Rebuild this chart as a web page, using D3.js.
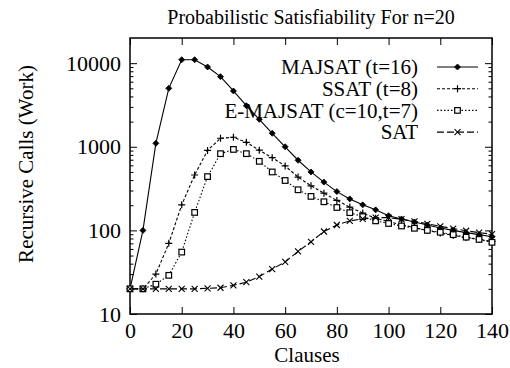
<!DOCTYPE html>
<html>
<head>
<meta charset="utf-8">
<script src="https://cdn.jsdelivr.net/npm/d3@7"></script>
<style>
  body { margin: 0; background: #fff; }
</style>
</head>
<body>
<div id="chart"></div>
<script>
// clauses (x) for every sample point
var clauses = [0, 5, 10, 15, 20, 25, 30, 35, 40, 45, 50, 55, 60, 65, 70, 75, 80, 85, 90, 95, 100, 105, 110, 115, 120, 125, 130, 135, 140];

// recursive calls
var majsat = [20, 100, 1100, 5000, 11000, 11000, 9000, 6900, 4650, 3100, 2130, 1450, 1000, 690, 500, 378, 291, 238, 202, 176, 150, 137, 126, 116, 107, 100, 94, 89, 84];
var ssat = [20, 20, 30, 70, 202, 460, 905, 1265, 1300, 1130, 910, 740, 590, 434, 341, 279, 228, 190, 161, 140, 127, 117, 108, 100, 93, 87, 82, 78, 74];
var emajsat = [20, 20, 22.7, 29, 55, 164, 440, 827, 930, 827, 670, 500, 395, 306, 255, 220, 188, 163, 146, 130, 121, 113, 106, 100, 95, 89, 83, 78, 72];
var sat = [20, 20, 20, 20, 20, 20, 20.3, 20.6, 22, 24, 28, 34.5, 42, 56, 73, 97, 116, 130, 137, 142, 142, 136, 128, 120, 112, 105, 99, 94, 90];

var seriesNames = ["MAJSAT (t=16)", "SSAT (t=8)", "E-MAJSAT (c=10,t=7)", "SAT"];
var xTicks = [0, 20, 40, 60, 80, 100, 120, 140];
var yTicks = [10, 100, 1000, 10000];

var series = [
  {name: seriesNames[0], values: majsat, dash: null, marker: "diamond"},
  {name: seriesNames[1], values: ssat, dash: "3,2", marker: "plus"},
  {name: seriesNames[2], values: emajsat, dash: "1.5,2", marker: "square"},
  {name: seriesNames[3], values: sat, dash: "7,3", marker: "cross"}
];

var FONT = "'Liberation Serif', 'Times New Roman', serif";

var width = 510, height = 368;
var margin = {top: 38, right: 18, bottom: 54, left: 130};
var innerW = width - margin.left - margin.right,
    innerH = height - margin.top - margin.bottom;

var x = d3.scaleLinear().domain([0, 140]).range([0, innerW]);
var y = d3.scaleLog().domain([10, 20000]).range([innerH, 0]);

var svg = d3.select("#chart").append("svg")
    .attr("width", width)
    .attr("height", height)
    .style("font-family", FONT);

var g = svg.append("g")
    .attr("transform", "translate(" + margin.left + "," + margin.top + ")");

// minor ticks on the log axis
var minor = [];
[10, 100, 1000, 10000].forEach(function(d) {
  for (var k = 2; k <= 9; k++) {
    if (d * k < 20000) minor.push(d * k);
  }
});

function styleAxis(sel) {
  sel.attr("font-family", null).attr("font-size", null);
  sel.select(".domain").remove();
  sel.selectAll("line").attr("stroke", "#000").attr("stroke-width", 1);
  sel.selectAll("text")
      .style("font-family", FONT)
      .style("font-size", "22px")
      .attr("fill", "#000");
}

g.append("g")
    .call(d3.axisLeft(y).tickValues(yTicks).tickFormat(d3.format("d")).tickSizeInner(-7).tickSizeOuter(0).tickPadding(9))
    .call(styleAxis);
g.append("g")
    .call(d3.axisLeft(y).tickValues(minor).tickFormat("").tickSizeInner(-3.5).tickSizeOuter(0))
    .call(styleAxis);
g.append("g")
    .attr("transform", "translate(" + innerW + ",0)")
    .call(d3.axisRight(y).tickValues(yTicks).tickFormat("").tickSizeInner(-7).tickSizeOuter(0))
    .call(styleAxis);
g.append("g")
    .attr("transform", "translate(" + innerW + ",0)")
    .call(d3.axisRight(y).tickValues(minor).tickFormat("").tickSizeInner(-3.5).tickSizeOuter(0))
    .call(styleAxis);

g.append("g")
    .attr("transform", "translate(0," + innerH + ")")
    .call(d3.axisBottom(x).tickValues(xTicks).tickSizeInner(-7).tickSizeOuter(0).tickPadding(8))
    .call(styleAxis);
g.append("g")
    .call(d3.axisTop(x).tickValues(xTicks).tickFormat("").tickSizeInner(-7).tickSizeOuter(0))
    .call(styleAxis);

// frame
g.append("rect")
    .attr("width", innerW)
    .attr("height", innerH)
    .attr("fill", "none")
    .attr("stroke", "#000")
    .attr("stroke-width", 1.5);

var line = d3.line()
    .x(function(d, i) { return x(clauses[i]); })
    .y(function(d) { return y(d); });

function drawMarker(sel, type) {
  if (type === "diamond") {
    sel.append("path").attr("d", "M0,-3L3,0L0,3L-3,0Z").attr("fill", "#000").attr("stroke", "#000").attr("stroke-width", 0.8);
  } else if (type === "plus") {
    sel.append("path").attr("d", "M-3.5,0H3.5M0,-3.5V3.5").attr("stroke", "#000").attr("stroke-width", 1.2);
  } else if (type === "square") {
    sel.append("rect").attr("x", -2.8).attr("y", -2.8).attr("width", 5.6).attr("height", 5.6)
        .attr("fill", "#fff").attr("stroke", "#000").attr("stroke-width", 1.2);
  } else {
    sel.append("path").attr("d", "M-3,-3L3,3M-3,3L3,-3").attr("stroke", "#000").attr("stroke-width", 1.1);
  }
}

series.forEach(function(s) {
  g.append("path")
      .datum(s.values)
      .attr("d", line)
      .attr("fill", "none")
      .attr("stroke", "#000")
      .attr("stroke-width", 1.1)
      .attr("stroke-dasharray", s.dash);

  g.append("g").selectAll("g")
      .data(s.values)
    .enter().append("g")
      .attr("transform", function(d, i) { return "translate(" + x(clauses[i]) + "," + y(d) + ")"; })
      .each(function() { drawMarker(d3.select(this), s.marker); });
});

// legend
var legend = svg.append("g").attr("transform", "translate(0,67)");
series.forEach(function(s, i) {
  var row = legend.append("g").attr("transform", "translate(0," + (i * 21.7) + ")");
  row.append("text")
      .attr("x", 418)
      .attr("dy", "0.35em")
      .attr("text-anchor", "end")
      .style("font-family", FONT)
      .style("font-size", "21px")
      .text(s.name);
  row.append("line")
      .attr("x1", 437).attr("x2", 478)
      .attr("stroke", "#000")
      .attr("stroke-width", 1.1)
      .attr("stroke-dasharray", s.dash);
  drawMarker(row.append("g").attr("transform", "translate(457.5,0)"), s.marker);
});

// title and axis labels
svg.append("text")
    .attr("x", 311)
    .attr("y", 24)
    .attr("text-anchor", "middle")
    .style("font-family", FONT)
    .style("font-size", "20px")
    .text("Probabilistic Satisfiability For n=20");

svg.append("text")
    .attr("x", 307)
    .attr("y", 362)
    .attr("text-anchor", "middle")
    .style("font-family", FONT)
    .style("font-size", "21px")
    .text("Clauses");

svg.append("text")
    .attr("transform", "translate(33,164) rotate(-90)")
    .attr("text-anchor", "middle")
    .style("font-family", FONT)
    .style("font-size", "21px")
    .text("Recursive Calls (Work)");
</script>
</body>
</html>
